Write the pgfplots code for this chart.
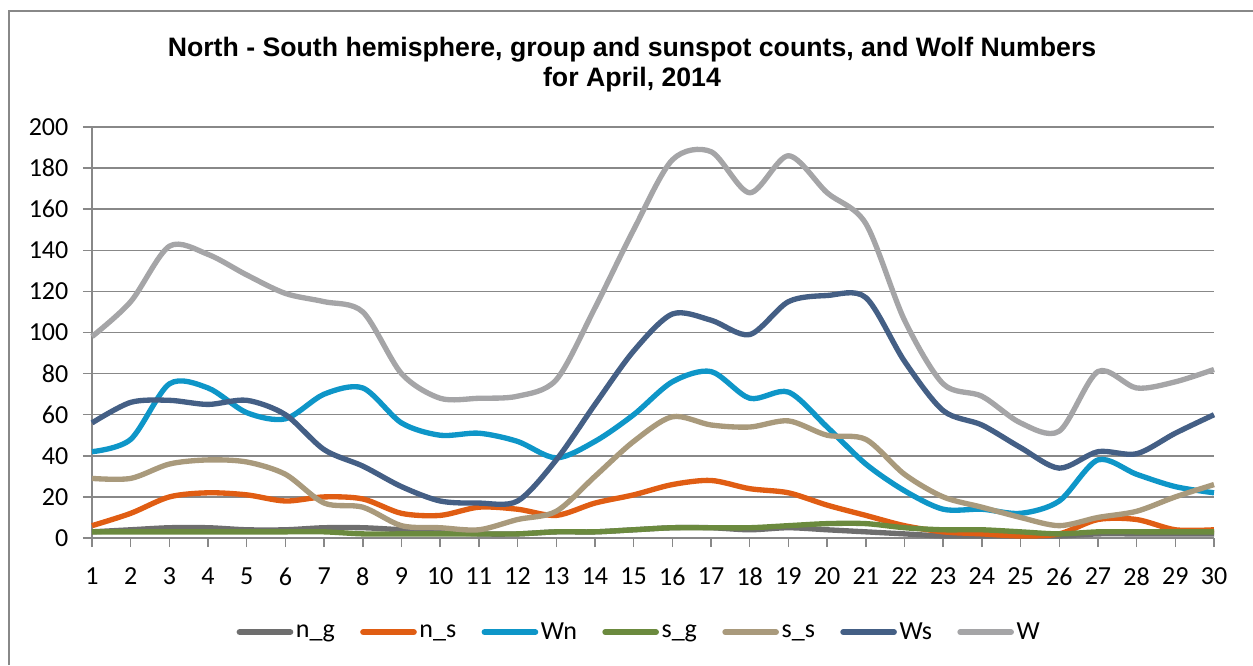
\documentclass[border=0pt]{standalone}
\usepackage{fontspec}
\setmainfont{Carlito}
\newfontfamily\titlefont{Liberation Sans}
\usepackage{pgfplots}
\pgfplotsset{compat=1.18}
\usepackage{pgfplotstable}

\definecolor{cng}{HTML}{6E6E6E}
\definecolor{cns}{HTML}{E05D13}
\definecolor{cwn}{HTML}{0E96C8}
\definecolor{csg}{HTML}{6B8A3E}
\definecolor{css}{HTML}{A99A7C}
\definecolor{cws}{HTML}{445F85}
\definecolor{cw}{HTML}{A5A5A7}
\definecolor{gridc}{HTML}{888888}

\pgfplotstableread{
d ng ns Wn sg ss Ws W
1 3 6 42 3 29 56 98
2 4 12 48 3 29 66 115
3 5 20 75 3 36 67 142
4 5 22 73 3 38 65 138
5 4 21 61 3 37 67 128
6 4 18 58 3 31 60 119
7 5 20 70 3 17 43 115
8 5 19 73 2 15 35 110
9 4 12 56 2 6 25 80
10 3 11 50 2 5 18 68
11 2 15 51 2 4 17 68
12 2 14 47 2 9 18 69
13 3 11 39 3 13 38 77
14 3 17 47 3 30 65 112
15 4 21 60 4 47 91 150
16 5 26 76 5 59 109 184
17 5 28 81 5 55 106 188
18 4 24 68 5 54 99 168
19 5 22 71 6 57 115 186
20 4 16 54 7 50 118 168
21 3 11 36 7 48 117 153
22 2 6 23 5 31 86 106
23 1 3 14 4 20 62 75
24 1 2 14 4 15 55 69
25 1 1 12 3 10 44 56
26 1 2 18 2 6 34 52
27 2 9 38 3 10 42 81
28 2 9 31 3 13 41 73
29 2 4 25 3 20 51 76
30 2 4 22 3 26 60 82
}\data

\begin{document}
\begin{tikzpicture}
\useasboundingbox (0,0) rectangle (939.75pt,498.75pt);
\draw[gridc, line width=1.1pt] (6.75pt,0) -- (6.75pt,490.5pt) -- (945pt,490.5pt);
\node[anchor=base, font={\titlefont\bfseries\fontsize{20pt}{24pt}\selectfont}] at (474pt,456pt) {North - South hemisphere, group and sunspot counts, and Wolf Numbers};
\node[anchor=base, font={\titlefont\bfseries\fontsize{20pt}{24pt}\selectfont}] at (474pt,434pt) {for April, 2014};
\begin{axis}[
  at={(69pt,95.25pt)}, anchor=south west,
  scale only axis, width=841.5pt, height=308.25pt,
  xmin=1, xmax=30, ymin=0, ymax=200,
  xtick={1,...,30}, ytick={0,20,...,200},
  axis x line*=bottom, axis y line*=left,
  axis line style={gridc, line width=1.1pt},
  every tick/.style={gridc, line width=1.1pt},
  tick align=outside, major tick length=6.75pt,
  ymajorgrids, grid style={gridc, line width=1.1pt},
  /pgf/number format/assume math mode=true,
  tick label style={font=\fontsize{19.5pt}{23pt}\selectfont},
  yticklabel style={xshift=-7.5pt},
  xticklabel style={yshift=-12pt},
  clip=false,
  legend columns=7,
  legend style={at={(0.488,-0.229)}, anchor=center, draw=none, fill=none,
    font=\fontsize{19.5pt}{23pt}\selectfont,
    /tikz/every even column/.append style={column sep=17pt},
    nodes={inner xsep=2pt}},
  legend image code/.code={\draw[line width=4.5pt, line cap=round] (0pt,0pt) -- (38pt,0pt);},
  every axis plot/.append style={line width=4pt, smooth, tension=0.5, line join=round},
]
\addplot[cng] table[x=d,y=ng] {\data}; \addlegendentry{n\_g}
\addplot[cns] table[x=d,y=ns] {\data}; \addlegendentry{n\_s}
\addplot[cwn] table[x=d,y=Wn] {\data}; \addlegendentry{Wn}
\addplot[csg] table[x=d,y=sg] {\data}; \addlegendentry{s\_g}
\addplot[css] table[x=d,y=ss] {\data}; \addlegendentry{s\_s}
\addplot[cws] table[x=d,y=Ws] {\data}; \addlegendentry{Ws}
\addplot[cw] table[x=d,y=W] {\data}; \addlegendentry{W}
\end{axis}
\end{tikzpicture}
\end{document}
